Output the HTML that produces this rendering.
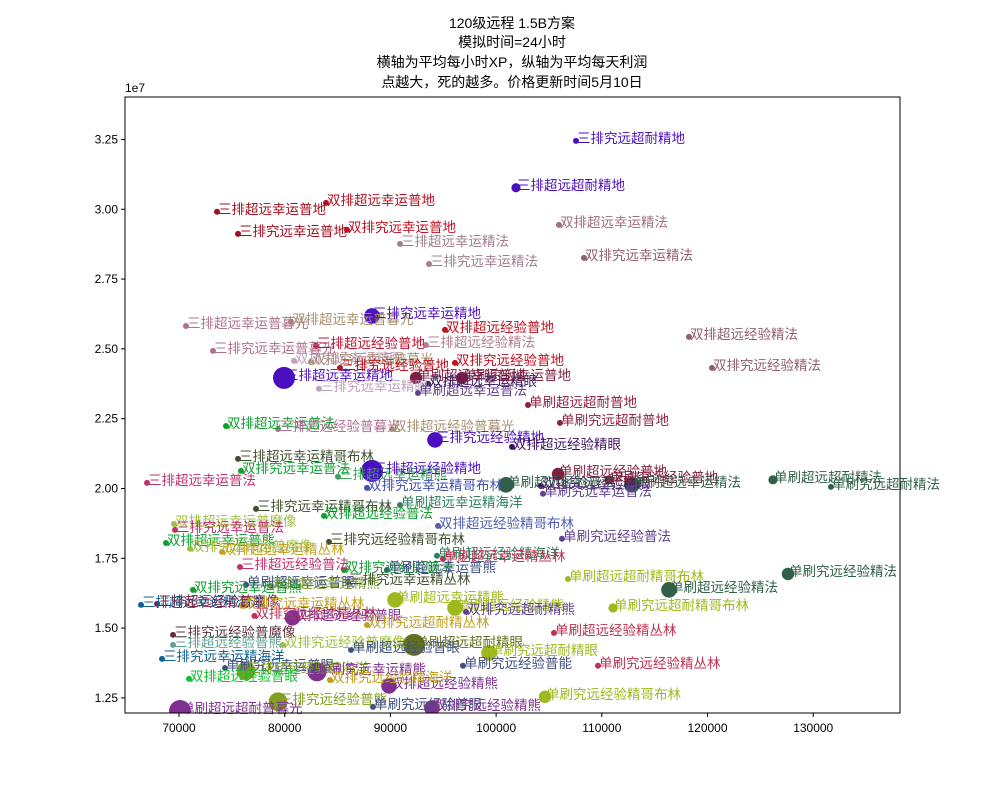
<!DOCTYPE html>
<html><head><meta charset="utf-8"><style>
body{margin:0;background:#fff;}
svg text{font-family:"Liberation Sans","Noto Sans CJK SC",sans-serif;}
</style></head><body>
<svg id="chart" width="1000" height="800" viewBox="0 0 1000 800" xmlns="http://www.w3.org/2000/svg">
<rect width="1000" height="800" fill="#fff"/>
<g font-size="14" text-anchor="middle" fill="#000">
<text x="512" y="28">120级远程 1.5B方案</text>
<text x="512" y="47">模拟时间=24小时</text>
<text x="512" y="67">横轴为平均每小时XP，纵轴为平均每天利润</text>
<text x="512" y="87">点越大，死的越多。价格更新时间5月10日</text>
</g>
<g id="points"></g>
<g id="labels"></g>
<g id="axes"></g>
</svg>
<script>
const names=["三排究远超耐精地","三排超远超耐精地","三排超远幸运普地","双排超远幸运普地","三排究远幸运普地","双排究远幸运普地","三排超远幸运精法","三排究远幸运精法","双排超远幸运精法","双排究远幸运精法","三排超远幸运普暮光","双排超远幸运普暮光","三排究远幸运精地","双排超远经验普地","三排究远幸运普暮光","三排超远经验普地","双排究远幸运精眼","双排究远幸运普暮光","三排超远经验精法","双排超远经验精法","双排究远经验精法","三排究远经验普地","双排究远经验普地","三排超远幸运精地","三排究远幸运精眼","单刷超远幸运普地","单刷究远幸运普地","单刷超远幸运普法","双排超远幸运精眼","单刷超远超耐普地","单刷究远超耐普地","双排超远幸运普法","三排超远经验普暮光","双排超远经验普暮光","三排究远经验精地","双排超远经验精眼","三排超远幸运精哥布林","双排究远幸运普法","三排超远幸运普法","三排超远幸运精熊","三排超远经验精地","双排究远幸运精哥布林","双排究远经验精眼","单刷超远经验普地","单刷究远经验普地","单刷超远经验普法","单刷超远幸运精法","单刷超远超耐精法","单刷究远超耐精法","单刷究远幸运普法","三排究远幸运精哥布林","双排超远经验普法","单刷超远幸运精海洋","双排超远经验精哥布林","单刷究远经验普法","双排超远幸运普魔像","三排究远幸运普法","双排超远幸运普熊","双排究远幸运普魔像","双排超远幸运精丛林","三排究远经验精哥布林","三排超远经验普法","双排究远经验普法","单刷超远幸运普熊","单刷超远经验精海洋","单刷超远幸运精丛林","双排究远幸运普熊","单刷超远幸运普眼","三排超远幸运精海洋","三排超远经验普魔像","双排究远幸运精丛林","双排超远幸运精熊","三排究远幸运精丛林","单刷超远幸运精熊","单刷超远经验精熊","双排究远经验精丛林","双排超远经验普眼","三排究远经验普魔像","三排超远经验普熊","双排究远经验普魔像","三排究远幸运精海洋","单刷究远幸运普眼","三排超远经验精海洋","单刷究远幸运精熊","双排超远经验普眼","单刷超远经验普眼","单刷超远超耐精眼","双排超远经验精熊","单刷究远经验普能","单刷究远超耐精眼","单刷超远经验精丛林","单刷究远经验精丛林","单刷究远超耐精哥布林","单刷超远经验精法","单刷究远经验精法","单刷究远经验精哥布林","单刷超远超耐普暮光","三排究远经验普熊","单刷究远经验普眼","双排究远经验精熊","双排究远超耐精熊","单刷超远超耐精哥布林","双排究远超耐精丛林","双排究远经验精海洋"];
const xpValues=[107556,101880,73595,83906,75581,85893,90907,93650,105948,108313,70662,80595,88257,95163,73216,82960,80879,82487,93366,118246,120422,85231,96110,79933,83244,92420,96772,92609,93555,103015,106042,74446,79365,90150,94218,101502,75581,75865,66973,85042,88257,87785,104245,105853,110677,100934,112853,126193,131679,104434,77284,83717,90907,94501,106231,69527,69622,68770,71041,74068,84190,75770,85609,89677,94407,94974,71324,76338,66405,67919,75960,78703,85987,90434,96110,77135,80730,69433,69433,79838,68392,74351,76338,83055,70946,86271,92231,89866,96867,99327,105475,109637,111056,116353,127611,104623,70095,79365,88352,93934,97150,106798,87785,84284];
const profitValues=[3.245,3.077,2.991,3.023,2.912,2.926,2.876,2.804,2.944,2.826,2.582,2.597,2.618,2.568,2.493,2.511,2.457,2.453,2.514,2.543,2.432,2.432,2.450,2.396,2.357,2.396,2.396,2.342,2.375,2.299,2.235,2.224,2.213,2.213,2.174,2.149,2.106,2.063,2.020,2.042,2.063,2.002,2.009,2.052,2.031,2.013,2.013,2.031,2.006,1.981,1.927,1.902,1.941,1.866,1.820,1.873,1.852,1.805,1.784,1.773,1.809,1.719,1.708,1.708,1.759,1.748,1.637,1.655,1.583,1.587,1.580,1.651,1.665,1.601,1.572,1.544,1.537,1.476,1.440,1.440,1.390,1.357,1.347,1.343,1.318,1.422,1.440,1.293,1.365,1.411,1.483,1.365,1.572,1.637,1.694,1.254,1.203,1.236,1.218,1.214,1.558,1.676,1.511,1.314];
const deathValues=[1,2,1,1,1,1,1,1,1,1,1,1,4,1,1,1,1,1,1,1,1,1,1,6,1,3,3,1,1,1,1,1,1,1,4,1,1,1,1,1,6,1,1,3,2,4,4,2,1,1,1,1,1,1,1,1,1,1,1,1,1,1,1,1,1,1,1,1,1,1,1,1,1,4,4,1,4,1,1,1,1,1,5,5,1,1,6,4,1,4,1,1,2,4,3,3,6,5,1,4,1,1,1,1];
const colors=["#4a10c0","#4a10c0","#a01020","#b01020","#a01020","#c01020","#a08090","#a08090","#a07080","#906070","#b07090","#a89070","#4a10c0","#c01020","#b07090","#c01030","#c0a0c0","#a89070","#b08090","#906070","#906070","#c01020","#c01020","#4a10c0","#c0a0c0","#802040","#802040","#604090","#402060","#902040","#902040","#10a030","#b07090","#a89070","#4a10c0","#401060","#405030","#10a030","#c03070","#40a060","#4a10c0","#4050b0","#401060","#802040","#802040","#306048","#306048","#306048","#306048","#604090","#405030","#10a030","#308060","#5060b0","#604090","#a0c040","#c03070","#10a030","#a0c040","#c0a020","#405030","#c03070","#10a030","#405080","#308060","#c03050","#10a030","#405080","#106090","#802040","#c0a020","#80a040","#405030","#a0b820","#a0b820","#c03050","#803090","#603040","#60a090","#a0c040","#106090","#405080","#80a020","#803090","#10c030","#405080","#607020","#803090","#405080","#a0b820","#c03050","#c03050","#a0b820","#306048","#306048","#a0b820","#803090","#80a020","#405080","#803090","#604090","#a0b820","#c0a020","#c0a020"];
const xTicks=[70000,80000,90000,100000,110000,120000,130000];
const yTicks=[1.25,1.5,1.75,2.0,2.25,2.5,2.75,3.0,3.25];
const yTickLabels=["1.25","1.50","1.75","2.00","2.25","2.50","2.75","3.00","3.25"];

const L=125,R=900,T=97,B=713;
const X0=64890,X1=138210,Y0=1.196,Y1=3.402;
function sx(v){return L+(v-X0)/(X1-X0)*(R-L);}
function sy(v){return B-(v-Y0)/(Y1-Y0)*(B-T);}
const NS="http://www.w3.org/2000/svg";
const pg=document.getElementById('points');
const lg=document.getElementById('labels');
const clip=document.createElementNS(NS,'clipPath');clip.setAttribute('id','pc');
const cr=document.createElementNS(NS,'rect');cr.setAttribute('x',L);cr.setAttribute('y',T);cr.setAttribute('width',R-L);cr.setAttribute('height',B-T);
clip.appendChild(cr);document.getElementById('chart').appendChild(clip);
pg.setAttribute('clip-path','url(#pc)');
for(let i=0;i<names.length;i++){
  const cx=sx(xpValues[i]),cy=sy(profitValues[i]);
  const c=document.createElementNS(NS,'circle');
  c.setAttribute('cx',cx);c.setAttribute('cy',cy);
  c.setAttribute('r',3+(deathValues[i]-1)*1.6);
  c.setAttribute('fill',colors[i]);
  
  
  pg.appendChild(c);
  const t=document.createElementNS(NS,'text');
  t.setAttribute('x',cx+1);t.setAttribute('y',cy+2);
  t.setAttribute('font-size','13.5');t.setAttribute('fill',colors[i]);
  t.textContent=names[i];
  
  
  lg.appendChild(t);
}
const ax=document.getElementById('axes');
ax.innerHTML='<rect x="'+L+'" y="'+T+'" width="'+(R-L)+'" height="'+(B-T)+'" fill="none" stroke="#000" stroke-width="1"/>';
xTicks.forEach(v=>{
  const x=sx(v);
  const l=document.createElementNS(NS,'line');
  l.setAttribute('x1',x);l.setAttribute('x2',x);l.setAttribute('y1',B);l.setAttribute('y2',B+4);l.setAttribute('stroke','#000');
  
  
  ax.appendChild(l);
  const t=document.createElementNS(NS,'text');
  t.setAttribute('x',x);t.setAttribute('y',B+19);t.setAttribute('font-size','12');t.setAttribute('text-anchor','middle');
  t.textContent=v;
  
  
  ax.appendChild(t);
});
yTicks.forEach((v,i)=>{
  const y=sy(v);
  const l=document.createElementNS(NS,'line');
  l.setAttribute('x1',L-4);l.setAttribute('x2',L);l.setAttribute('y1',y);l.setAttribute('y2',y);l.setAttribute('stroke','#000');
  
  
  ax.appendChild(l);
  const t=document.createElementNS(NS,'text');
  t.setAttribute('x',L-7);t.setAttribute('y',y+4);t.setAttribute('font-size','12');t.setAttribute('text-anchor','end');
  t.textContent=yTickLabels[i];
  
  
  ax.appendChild(t);
});
const off=document.createElementNS(NS,'text');
off.setAttribute('x',L);off.setAttribute('y',T-5);off.setAttribute('font-size','12');
off.textContent='1e7';


ax.appendChild(off);
</script>
</body></html>
